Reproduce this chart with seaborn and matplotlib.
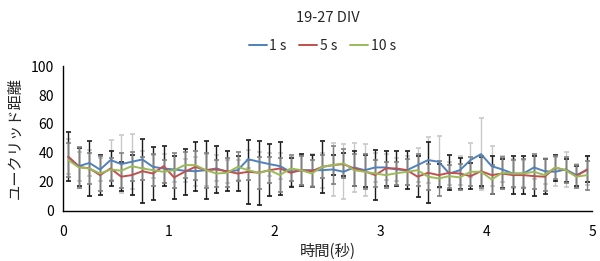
import matplotlib
matplotlib.use("Agg")
import matplotlib.pyplot as plt
import numpy as np
import pandas as pd
import seaborn as sns

# time points (s)
time_s = [round(0.05 + 0.1 * i, 2) for i in range(50)]

# mean euclidean distance per series
dist_1s = [37.3, 30.9, 33.1, 28.5, 35.1, 32.3, 33.9, 35.5, 30.4, 29.3,
           28.6, 27.7, 27.4, 28.1, 29.3, 27.0, 28.1, 35.7, 33.9, 32.3,
           30.9, 27.0, 28.1, 28.1, 28.1, 28.6, 27.0, 30.0, 28.1, 30.0,
           30.0, 28.6, 28.1, 31.6, 35.1, 33.9, 25.8, 28.1, 35.1, 39.2,
           30.9, 28.6, 25.8, 25.8, 30.0, 27.4, 27.0, 28.6, 24.7, 28.1]
dist_5s = [37.3, 30.4, 29.3, 24.7, 29.3, 23.6, 24.7, 27.4, 25.8, 30.9,
           23.1, 27.0, 30.4, 28.1, 28.6, 27.4, 25.8, 27.0, 26.3, 28.1,
           29.3, 26.3, 28.1, 27.4, 30.4, 31.6, 32.3, 29.3, 27.4, 24.7,
           29.3, 29.3, 28.1, 23.6, 26.3, 24.7, 26.3, 25.8, 24.0, 27.4,
           24.7, 25.8, 24.7, 24.7, 24.0, 23.6, 29.8, 28.1, 24.0, 28.6]
dist_10s = [35.1, 30.0, 29.3, 25.8, 28.6, 27.7, 30.9, 29.3, 28.1, 27.0,
            28.1, 31.6, 31.6, 28.1, 25.8, 26.3, 30.4, 28.1, 26.3, 28.1,
            24.7, 29.3, 28.1, 25.8, 30.4, 31.6, 32.8, 28.1, 27.0, 25.8,
            24.7, 26.0, 27.0, 28.1, 23.6, 22.4, 24.0, 23.1, 27.0, 27.0,
            21.7, 26.3, 25.8, 25.8, 27.0, 24.7, 30.0, 28.1, 23.6, 24.7]

# error bar half-widths
err_1s = [12, 10, 9, 8, 14, 20, 19, 6, 8, 10,
          9, 8, 10, 11, 9, 8, 7, 6, 7, 8,
          9, 10, 10, 11, 12, 18, 19, 17, 18, 10,
          9, 8, 10, 12, 16, 18, 8, 10, 12, 25,
          14, 9, 10, 9, 8, 9, 10, 12, 8, 10]
err_5s = [17, 13, 19, 14, 12, 10, 14, 22, 18, 14,
          15, 16, 17, 20, 16, 14, 12, 22, 22, 18,
          18, 10, 11, 11, 18, 7, 8, 12, 11, 17,
          12, 12, 13, 14, 21, 8, 12, 11, 9, 10,
          13, 10, 13, 13, 14, 12, 9, 8, 7, 9]
err_10s = [12, 14, 11, 12, 8, 12, 10, 8, 11, 8,
           12, 9, 10, 12, 9, 10, 10, 7, 11, 9,
           12, 9, 10, 9, 8, 13, 10, 11, 12, 9,
           9, 8, 9, 11, 9, 12, 8, 9, 10, 11,
           10, 11, 9, 10, 12, 11, 8, 9, 8, 10]

labels = ["1 s", "5 s", "10 s"]
line_colors = ["#4F81BD", "#C0504D", "#9BBB59"]
bar_colors = ["#C8C8C8", "#1A1A1A", "#808080"]

df = pd.DataFrame({
    "time": time_s * 3,
    "dist": dist_1s + dist_5s + dist_10s,
    "series": [labels[0]] * 50 + [labels[1]] * 50 + [labels[2]] * 50,
})

sns.set_style("white")
plt.rcParams["font.family"] = ["Noto Sans CJK JP", "DejaVu Sans"]

fig = plt.figure(figsize=(6.0, 2.61), dpi=100)
ax = fig.add_axes([0.105, 0.192, 0.882, 0.555])

for means, errs, col in zip([dist_1s, dist_5s, dist_10s],
                            [err_1s, err_5s, err_10s], bar_colors):
    ax.errorbar(time_s, means, yerr=errs, fmt="none", ecolor=col,
                elinewidth=1.0, capsize=1.8, capthick=1.2, zorder=1)

sns.lineplot(data=df, x="time", y="dist", hue="series",
             palette=line_colors, linewidth=1.4, ax=ax, zorder=3)

ax.set_xlim(0, 5)
ax.set_ylim(0, 100)
ax.set_xticks(range(6))
ax.set_yticks(range(0, 101, 20))
ax.tick_params(axis="both", labelsize=10, length=3, width=1,
               direction="out", colors="black")
ax.tick_params(axis="x", pad=7)
for side in ["top", "right"]:
    ax.spines[side].set_visible(False)
for side in ["left", "bottom"]:
    ax.spines[side].set_color("black")
    ax.spines[side].set_linewidth(1.0)

ax.set_xlabel("時間(秒)", fontsize=11, labelpad=3)
ax.set_ylabel("ユークリッド距離", fontsize=11, labelpad=5)

ax.legend(title=None, loc="lower center", bbox_to_anchor=(0.49, 1.04),
          ncol=3, frameon=False, fontsize=10, handlelength=1.3,
          handletextpad=0.2, columnspacing=0.9, borderpad=0)
fig.text(0.546, 0.93, "19-27 DIV", ha="center", va="center", fontsize=10.5)

fig.savefig("out.png", dpi=100)
